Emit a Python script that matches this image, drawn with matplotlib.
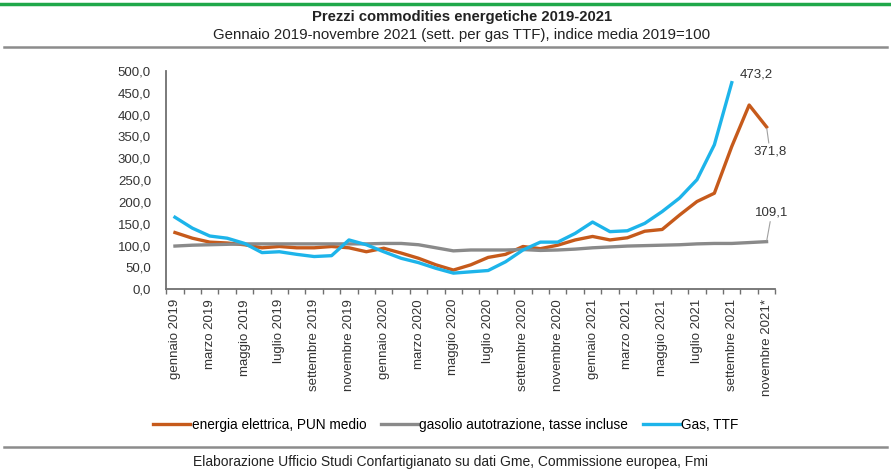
import matplotlib
matplotlib.use("Agg")
import matplotlib.pyplot as plt
import numpy as np
from matplotlib.lines import Line2D
from matplotlib.ticker import FuncFormatter

plt.rcParams["font.family"] = ["Liberation Sans", "DejaVu Sans"]

MESI = ["gennaio", "febbraio", "marzo", "aprile", "maggio", "giugno",
        "luglio", "agosto", "settembre", "ottobre", "novembre", "dicembre"]
ANNI = [2019, 2020, 2021]
categorie = [f"{m} {a}" for a in ANNI for m in MESI][:35]
categorie[-1] += "*"

# indice media 2019 = 100
pun = [130, 117, 108, 106, 102, 95, 98, 95, 95, 98, 95, 86,
       94, 83, 71, 56, 44, 56, 73, 80, 98, 93, 101, 113,
       121, 113, 118, 133, 137, 170, 201, 220, 327, 422, 371.8]
gasolio = [99, 101, 102, 103, 104, 104, 104, 104, 104, 104, 104, 104,
           105, 105, 102, 95, 88, 90, 90, 90, 91, 89, 90, 92,
           95, 97, 99, 100, 101, 102, 104, 105, 105, 107, 109.1]
ttf = [165, 140, 122, 117, 105, 84, 86, 80, 75, 77, 113, 102,
       86, 71, 61, 48, 37, 40, 43, 63, 90, 108, 108, 128,
       154, 132, 134, 151, 178, 209, 251, 331, 473.2, np.nan, np.nan]

ARANCIO = "#c65a1b"
GRIGIO = "#8a8a8a"
AZZURRO = "#1db4ea"


def virgola(v, pos=None):
    return f"{v:.1f}".replace(".", ",")


fig = plt.figure(figsize=(8.91, 4.7), dpi=100)
ax = fig.add_axes([0.1866, 0.3845, 0.6835, 0.4645])

x = np.arange(len(categorie))
ax.plot(x, pun, color=ARANCIO, lw=2.4, label="energia elettrica, PUN medio")
ax.plot(x, gasolio, color=GRIGIO, lw=2.4, label="gasolio autotrazione, tasse incluse")
ax.plot(x, ttf, color=AZZURRO, lw=2.4, label="Gas, TTF")

ax.set_xlim(-0.5, len(categorie) - 0.5)
ax.set_ylim(0, 500)
ax.set_yticks(np.arange(0, 501, 50))
ax.yaxis.set_major_formatter(FuncFormatter(virgola))
ax.tick_params(axis="y", length=0, pad=11, labelsize=9.5, labelcolor="#333333")

ax.set_xticks(x[::2])
ax.set_xticklabels(categorie[::2], rotation=90, va="top", ha="center")
ax.set_xticks(np.arange(-0.5, len(categorie)), minor=True)
ax.tick_params(axis="x", which="major", length=0, pad=7, labelsize=9.5, labelcolor="#333333")
ax.tick_params(axis="x", which="minor", length=3.5, width=1, color="#707070")

for s in ["top", "right"]:
    ax.spines[s].set_visible(False)
for s in ["left", "bottom"]:
    ax.spines[s].set_color("#707070")
    ax.spines[s].set_linewidth(1.3)

# etichette ultimi valori
ultimo_ttf = int(np.flatnonzero(~np.isnan(ttf))[-1])
ax.text(ultimo_ttf + 1.4, ttf[ultimo_ttf] + 18, virgola(ttf[ultimo_ttf]),
        ha="center", va="center", fontsize=9.5, color="#333333")
ax.annotate(virgola(pun[-1]), xy=(x[-1], pun[-1]), xytext=(x[-1] + 0.2, pun[-1] - 57),
            ha="center", va="center", fontsize=9.5, color="#333333",
            arrowprops=dict(arrowstyle="-", color="#a0a0a0", lw=0.8, shrinkA=0, shrinkB=1))
ax.annotate(virgola(gasolio[-1]), xy=(x[-1], gasolio[-1]), xytext=(x[-1] + 0.3, gasolio[-1] + 66),
            ha="center", va="center", fontsize=9.5, color="#333333",
            arrowprops=dict(arrowstyle="-", color="#a0a0a0", lw=0.8, shrinkA=0, shrinkB=1))

fig.add_artist(Line2D([0, 1], [1 - 4 / 470] * 2, color="#1fa84a", lw=2.5))
fig.add_artist(Line2D([0.005, 0.995], [1 - 47 / 470] * 2, color="#8c8c8c", lw=1.8))
fig.add_artist(Line2D([0.005, 0.995], [1 - 447 / 470] * 2, color="#8c8c8c", lw=1.8))

fig.text(462 / 891, 1 - 17 / 470, "Prezzi commodities energetiche 2019-2021",
         ha="center", va="center", fontsize=10.7, fontweight="bold", color="#222222")
fig.text(462 / 891, 1 - 35 / 470,
         "Gennaio 2019-novembre 2021 (sett. per gas TTF), indice media 2019=100",
         ha="center", va="center", fontsize=10.8, color="#222222")

fig.legend(loc="center", bbox_to_anchor=(446 / 891, 1 - 425 / 470), ncol=3, frameon=False,
           fontsize=9.8, handlelength=2.7, handletextpad=0.1, columnspacing=1.1)

fig.text(450 / 891, 1 - 462 / 470,
         "Elaborazione Ufficio Studi Confartigianato su dati Gme, Commissione europea, Fmi",
         ha="center", va="center", fontsize=10, color="#222222")

fig.savefig("out.png", dpi=100)
